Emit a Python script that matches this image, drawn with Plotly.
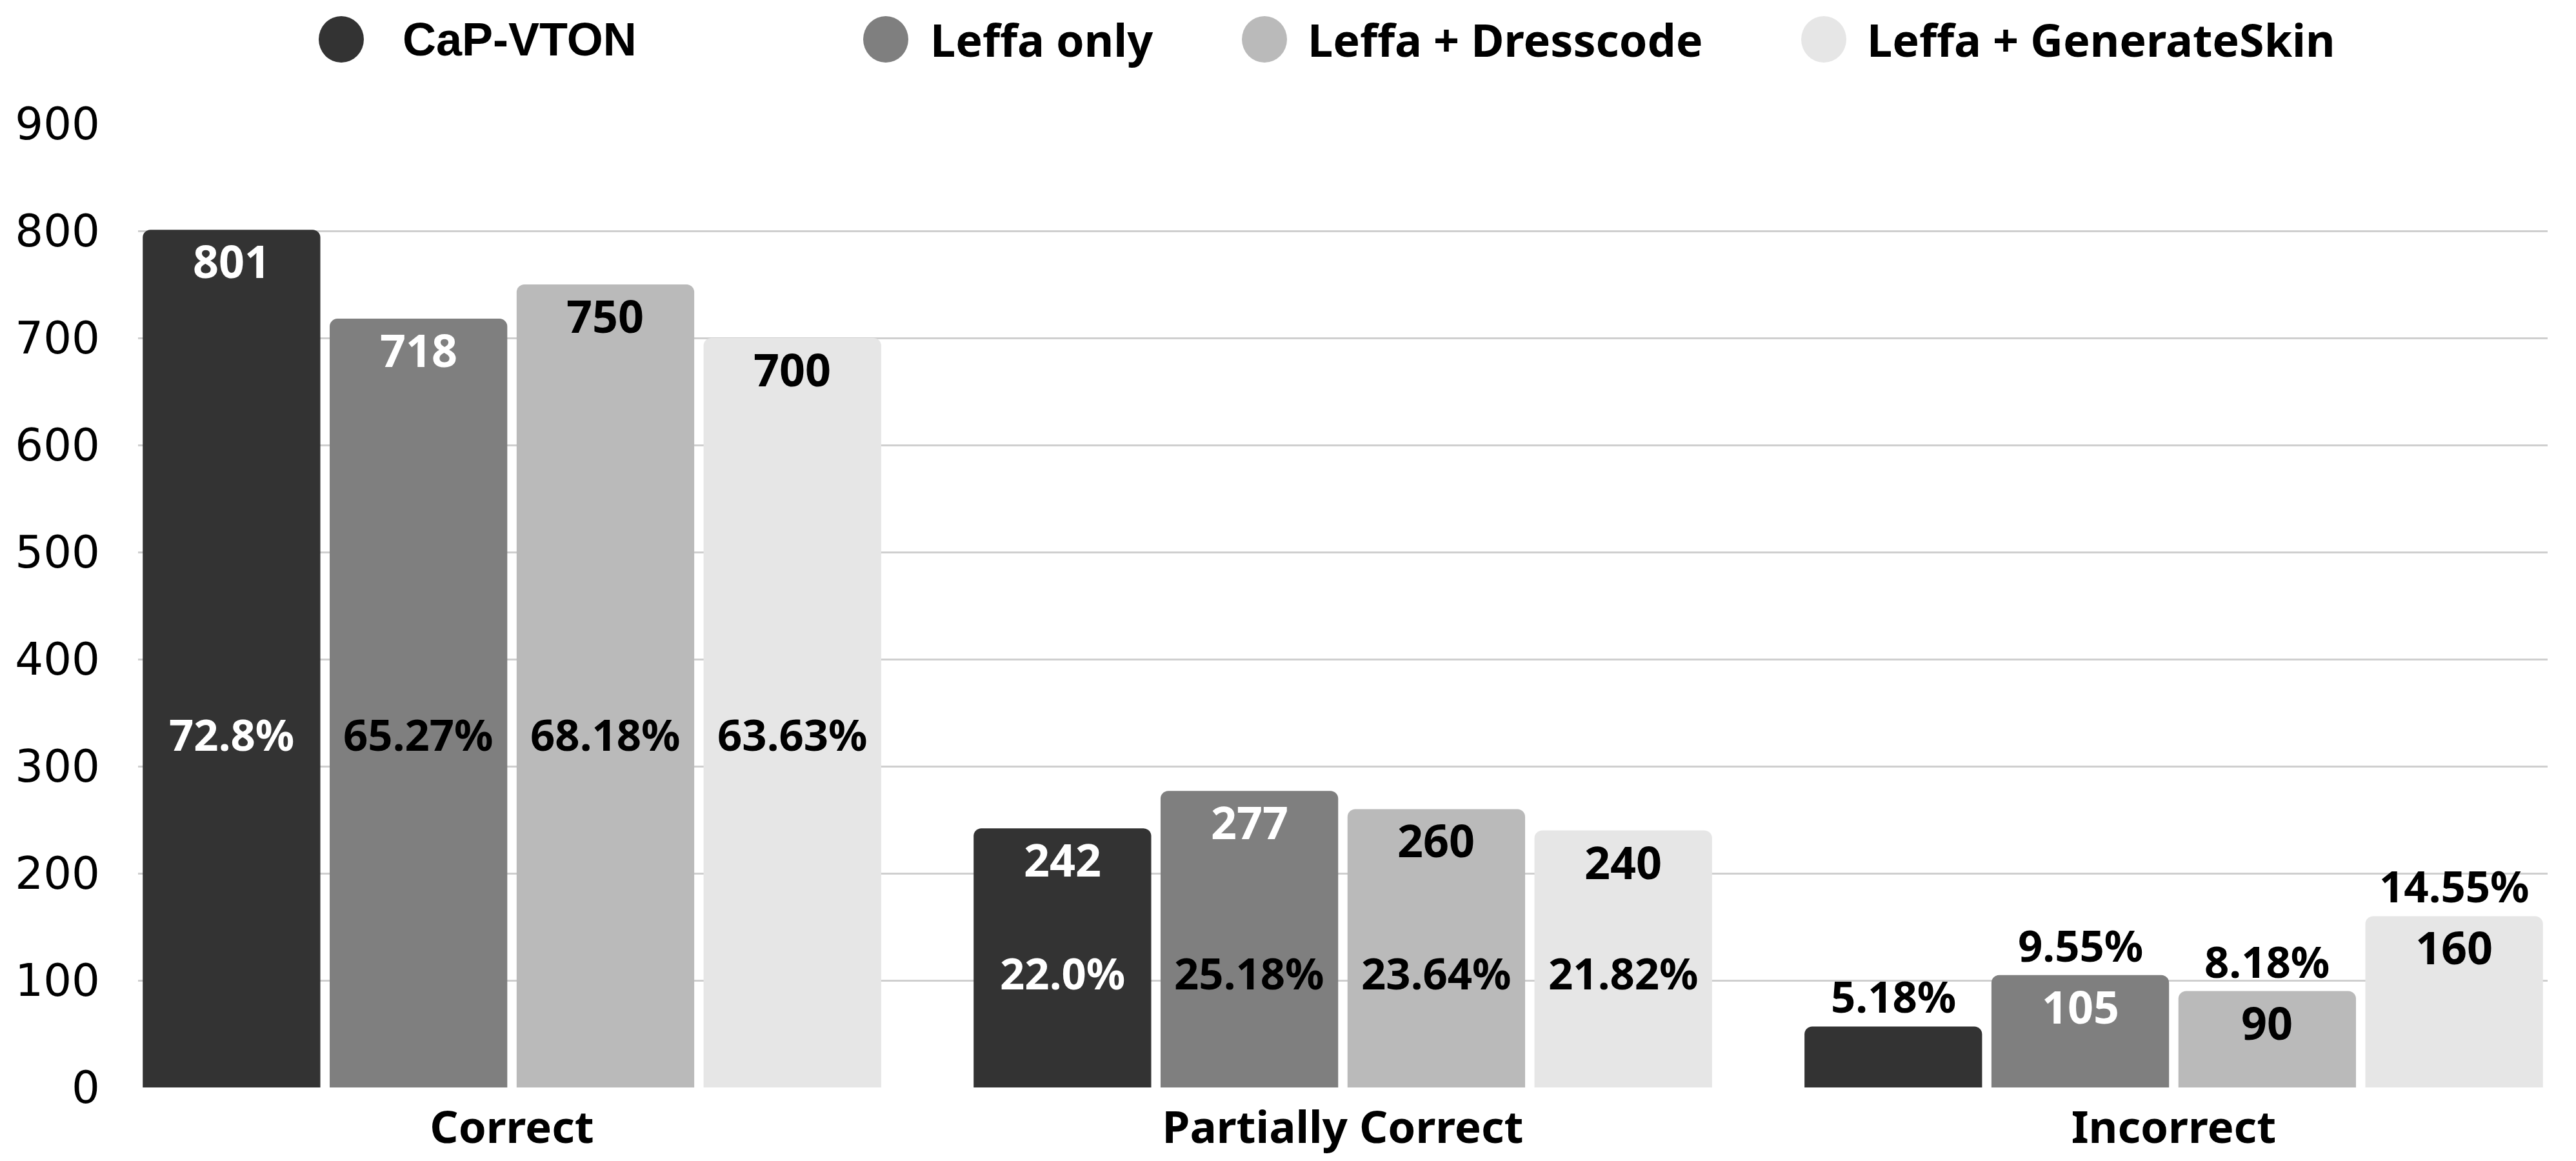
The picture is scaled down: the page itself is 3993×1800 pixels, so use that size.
import plotly.graph_objects as go

# ---------------- data ----------------
categories = ["Correct", "Partially Correct", "Incorrect"]
series_names = ["CaP-VTON", "Leffa only", "Leffa + Dresscode", "Leffa + GenerateSkin"]

cap_vton = [801, 242, 57]
leffa_only = [718, 277, 105]
leffa_dresscode = [750, 260, 90]
leffa_generateskin = [700, 240, 160]

cap_vton_pct = ["72.8%", "22.0%", "5.18%"]
leffa_only_pct = ["65.27%", "25.18%", "9.55%"]
leffa_dresscode_pct = ["68.18%", "23.64%", "8.18%"]
leffa_generateskin_pct = ["63.63%", "21.82%", "14.55%"]

# which value labels are printed on the bars
cap_vton_show = [True, True, False]
leffa_only_show = [True, True, True]
leffa_dresscode_show = [True, True, True]
leffa_generateskin_show = [True, True, True]

y_ticks = [0, 100, 200, 300, 400, 500, 600, 700, 800, 900]

# ---------------- style ----------------
colors = ["#333333", "#7f7f7f", "#bababa", "#e6e6e6"]
label_colors = ["white", "white", "black", "black"]
pct_colors_inside = ["white", "black", "black", "black"]

W, H = 3993, 1800
ML, MR, MT, MB = 214, 44, 192, 114
BARGAP = 0.1
BARGROUPGAP = 0.05
# vertical row (in data units) where percentages sit inside the bars; None -> above bar
pct_row = [330, 107, None]

values = [cap_vton, leffa_only, leffa_dresscode, leffa_generateskin]
pcts = [cap_vton_pct, leffa_only_pct, leffa_dresscode_pct, leffa_generateskin_pct]
shows = [cap_vton_show, leffa_only_show, leffa_dresscode_show, leffa_generateskin_show]

fig = go.Figure()
for name, vals, col in zip(series_names, values, colors):
    fig.add_trace(go.Bar(
        x=categories, y=vals, name=name, marker=dict(color=col, line=dict(width=0)),
        showlegend=False, hoverinfo="x+y+name",
    ))

n = len(series_names)
slot = (1 - BARGAP) / n
annotations = []
VAL_FONT = dict(family="Noto Sans", size=70, weight="bold")
PCT_FONT = dict(family="Noto Sans", size=67, weight="bold")
for j in range(n):
    for i, cat in enumerate(categories):
        xpos = i + (j - (n - 1) / 2) * slot
        v = values[j][i]
        if shows[j][i]:
            annotations.append(dict(
                x=xpos, y=v, xref="x", yref="y", text=str(v), showarrow=False,
                xanchor="center", yanchor="middle", yshift=-48,
                font=dict(color=label_colors[j], **VAL_FONT),
            ))
        if pct_row[i] is not None:
            annotations.append(dict(
                x=xpos, y=pct_row[i], xref="x", yref="y", text=pcts[j][i], showarrow=False,
                xanchor="center", yanchor="middle",
                font=dict(color=pct_colors_inside[j], **PCT_FONT),
            ))
        else:
            annotations.append(dict(
                x=xpos, y=v, xref="x", yref="y", text=pcts[j][i], showarrow=False,
                xanchor="center", yanchor="middle", yshift=47,
                font=dict(color="black", **PCT_FONT),
            ))

# ---------------- custom legend (big round markers) ----------------
plot_w = W - ML - MR
plot_h = H - MT - MB
legend_y_px = 61
legend_marker_x_px = [529, 1373, 1960, 2827]
legend_text_x_px = [622, 1440, 2025, 2892]
legend_fonts = [
    dict(family="Liberation Sans", size=72, weight="bold", color="black"),
    dict(family="Noto Sans", size=70, weight="bold", color="black"),
    dict(family="Noto Sans", size=70, weight="bold", color="black"),
    dict(family="Noto Sans", size=70, weight="bold", color="black"),
]
ly = (H - MB - legend_y_px) / plot_h
shapes = []
for name, col, mx, tx, f in zip(series_names, colors, legend_marker_x_px, legend_text_x_px, legend_fonts):
    shapes.append(dict(
        type="circle", xref="paper", yref="paper",
        xsizemode="pixel", ysizemode="pixel",
        xanchor=(mx - ML) / plot_w, yanchor=ly,
        x0=-35, x1=35, y0=-36, y1=36,
        fillcolor=col, line=dict(width=0),
    ))
    annotations.append(dict(
        x=(tx - ML) / plot_w, y=ly, xref="paper", yref="paper", text=name,
        showarrow=False, xanchor="left", yanchor="middle", font=f,
    ))

fig.update_layout(
    width=W, height=H,
    margin=dict(l=ML, r=MR, t=MT, b=MB, pad=0, autoexpand=False),
    paper_bgcolor="white", plot_bgcolor="white",
    barmode="group", bargap=BARGAP, bargroupgap=BARGROUPGAP,
    barcornerradius=12,
    showlegend=False,
    xaxis=dict(
        type="category", range=[-0.45, 2.45], showgrid=False, showline=False,
        ticks="", zeroline=False, automargin=False,
        tickfont=dict(family="Noto Sans", size=69, weight="bold", color="black"),
        ticklabelstandoff=16,
    ),
    yaxis=dict(
        range=[0, 900], tickvals=y_ticks, showgrid=True, gridcolor="#cfcfcf", gridwidth=3,
        zeroline=True, zerolinecolor="white", zerolinewidth=3,
        showline=False, ticks="", automargin=False,
        tickfont=dict(family="DejaVu Sans", size=69, color="black"),
        ticklabelstandoff=58,
    ),
    annotations=annotations,
    shapes=shapes,
)

fig.write_html(
    "out.html",
    config={"displayModeBar": False},
    post_script="document.body.style.margin='0';document.body.style.padding='0';",
)
